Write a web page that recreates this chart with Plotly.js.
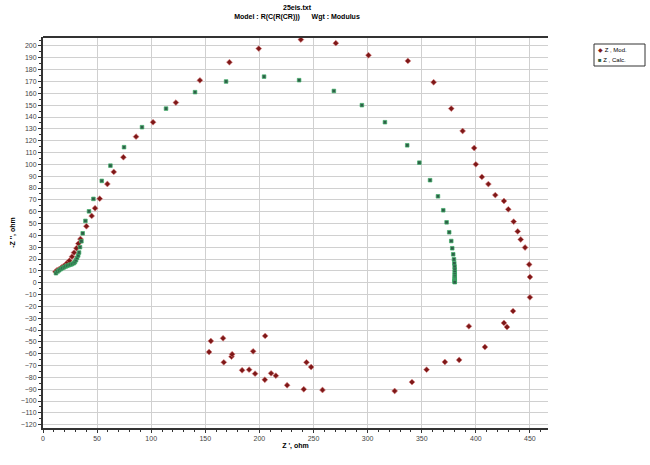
<!DOCTYPE html>
<html><head><meta charset="utf-8">
<script src="https://cdn.plot.ly/plotly-3.0.1.min.js"></script>
<style>body{margin:0;background:#fff}#c{width:650px;height:465px}</style>
</head><body><div id="c"></div>
<script>
// Z', Mod. (measured)
const modRe = [11.5,13,15,17,19,21,22.7,24.4,26.8,28.7,30.9,32.7,34.6,40.1,45,48.1,52.4,59.5,65.4,74.3,86,101.7,122.8,145,172.3,199.4,238.3,270.6,300.8,337.2,361,377.3,387.8,398.5,400,405.6,411.6,418,426,430,435,438.7,441.5,445.5,449.3,450,450,434.4,426,428.8,393.6,408.4,384.6,371.4,354.5,341,325,258.3,241,225.6,205,215.2,210.8,196,190.5,184,247.8,243.5,167.1,174.2,174.8,194.2,153.5,205.3,166.4,155.1];
const modIm = [9.3,10.5,11.5,12.8,14,15.3,17,18.6,22,25.4,29.1,33,36.9,47.7,56.4,62.9,71,83.4,93.6,106,123.4,135.6,152.2,171,186.3,197.8,205.4,202.4,192.2,187.4,169.4,147.1,128.2,113.8,100,89.4,83.3,74,69,62,51.6,43.3,36.5,29.7,15.4,4.8,-12.4,-24,-34,-37.5,-36.9,-54.4,-65.3,-67,-73.5,-84,-91.5,-90.7,-90.1,-86.7,-82,-78.6,-76.6,-76.9,-73.5,-74,-71.3,-67.3,-67.3,-62.5,-60.5,-58,-58.6,-45,-47,-49.3];
// Z', Calc.
const calcRe = [12,13.5,15,16.5,18,19.5,21,22.5,24,25.5,27,28.5,29.5,30.5,31.5,32.5,33.3,34.2,35.5,36.7,39.2,42.5,46.6,54.3,62.3,74.9,91.5,113.7,140.5,169.2,204.3,236.7,268.8,294.7,316,336.6,347.8,357.7,365,369.9,373,375.4,377.3,378.2,379.1,379.8,380.1,380.4,380.5,380.5,380.5,380.5,380.5,380.5,380.5,380.5,380.5,380.5];
const calcIm = [8,9.5,10.5,11.5,12.3,13,13.7,14.3,14.8,15.3,15.8,16.5,17.5,19,21,23,25.5,30,35,41.7,52.2,60.3,70.8,86,98.9,114.5,131.4,147.1,161,170,174.1,171.1,162,150,135.6,116.1,101.4,86.6,73,61.2,51,42.6,35.2,29.1,24,19.8,16.4,13.5,11,9,7,5.5,4,3,2,1.3,0.8,0.4];
const xTicks = [0,50,100,150,200,250,300,350,400,450];
const seriesNames = ['Z , Mod.', 'Z , Calc.'];
const modColor = '#7e1818', calcColor = '#2f5f48';

const fontFam = '"Liberation Sans", Arial, sans-serif';
const traces = [
  {x: modRe, y: modIm, type:'scatter', mode:'markers', name:seriesNames[0],
   marker:{symbol:'diamond', size:4.5, color:modColor, line:{color:'#d98080', width:0.6}}},
  {x: calcRe, y: calcIm, type:'scatter', mode:'markers', name:seriesNames[1],
   marker:{symbol:'square', size:3.6, color:calcColor, line:{color:'#3fb068', width:0.7}}}
];
const layout = {
  width:650, height:465,
  margin:{l:43, r:102, t:37, b:37, autoexpand:false},
  paper_bgcolor:'#fff', plot_bgcolor:'#fff',
  font:{family:fontFam, size:7, color:'#444'},
  title:{text:'<b>25eis.txt</b><br><b>Model : R(C(R(CR)))      Wgt : Modulus</b>', x:297/650, xanchor:'center', y:0.978, yanchor:'top', font:{size:7, color:'#000'}},
  xaxis:{range:[0,466.7], tickvals:xTicks, ticks:'outside', ticklen:3, tickcolor:'#333',
    minor:{dtick:10, ticks:'outside', ticklen:2, tickcolor:'#333', showgrid:false},
    showgrid:true, gridcolor:'#d0d0d0', gridwidth:1, zeroline:false,
    showline:true, linecolor:'#333', linewidth:2, mirror:false,
    title:{text:'<b>Z \', ohm</b>', font:{size:7, color:'#000'}, standoff:0}},
  yaxis:{range:[-122.8,207.6], dtick:10, tick0:0, ticks:'outside', ticklen:3, tickcolor:'#333',
    minor:{dtick:5, ticks:'outside', ticklen:2, tickcolor:'#333', showgrid:false},
    showgrid:true, gridcolor:'#d0d0d0', gridwidth:1, zeroline:false,
    showline:true, linecolor:'#333', linewidth:2,
    title:{text:'<b>-Z \'\', ohm</b>', font:{size:7, color:'#000'}, standoff:4}},
  shapes:[
    {type:'line', xref:'paper', yref:'paper', x0:0, x1:1, y0:1, y1:1, line:{color:'#333', width:2}},
    {type:'rect', xref:'paper', yref:'paper', x0:(594-43)/505, x1:(645-43)/505, y0:(465-37-66)/391, y1:(465-37-44)/391,
     line:{color:'#333', width:1}, fillcolor:'#fff'}
  ],
  annotations:[
    {xref:'paper', yref:'paper', x:(596-43)/505, y:(465-37-50)/391, xanchor:'left', yanchor:'middle', showarrow:false,
     text:'<span style="color:'+modColor+'">◆</span> '+seriesNames[0], font:{size:6, color:'#000'}},
    {xref:'paper', yref:'paper', x:(596-43)/505, y:(465-37-60)/391, xanchor:'left', yanchor:'middle', showarrow:false,
     text:'<span style="color:'+calcColor+'">■</span> '+seriesNames[1], font:{size:6, color:'#000'}}
  ],
  showlegend:false
};
Plotly.newPlot('c', traces, layout, {displayModeBar:false, staticPlot:true});
</script></body></html>
